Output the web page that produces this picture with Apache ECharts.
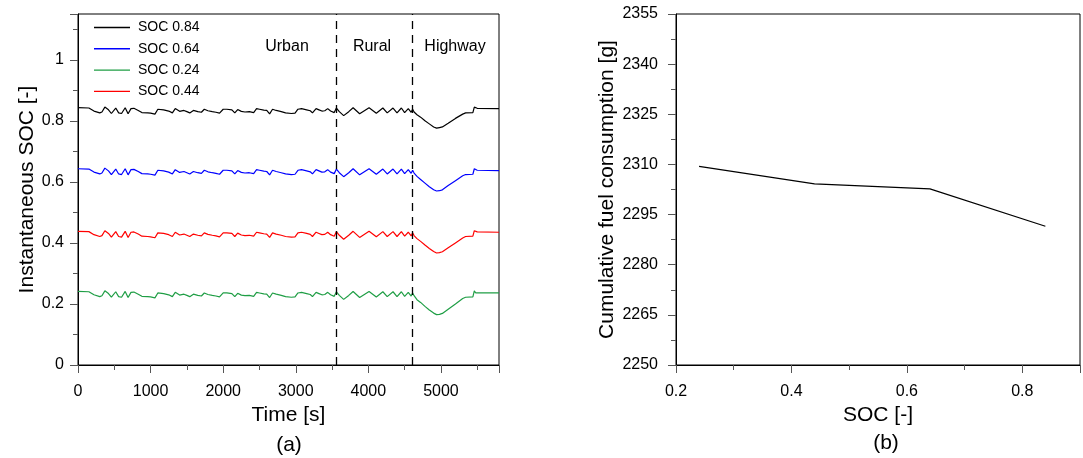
<!DOCTYPE html>
<html>
<head>
<meta charset="utf-8">
<script src="https://cdn.jsdelivr.net/npm/echarts@6/dist/echarts.min.js"></script>
<style>html,body{margin:0;padding:0;background:#fff}#c{width:1083px;height:458px}</style>
</head>
<body>
<div id="c"></div>
<script>
// ---- Data ----
const timeS = [0,150,220,300,330,370,420,460,520,560,600,650,690,730,770,830,880,960,1000,1060,1100,1180,1250,1300,1340,1400,1460,1500,1540,1590,1650,1700,1740,1790,1850,1900,1950,2000,2050,2120,2160,2200,2250,2300,2360,2420,2460,2500,2560,2600,2640,2680,2730,2800,2860,2940,2990,3030,3080,3150,3200,3230,3280,3320,3360,3400,3440,3480,3530,3560,3600,3660,3730,3790,3880,4010,4110,4200,4260,4340,4395,4455,4500,4550,4590,4610,4630,4650,4670,4720,4780,4840,4900,4940,4980,5020,5100,5200,5300,5340,5440,5460,5480,5500,5800];

const soc084 = [0.843,0.842,0.832,0.826,0.829,0.845,0.836,0.824,0.842,0.826,
0.824,0.843,0.823,0.840,0.841,0.834,0.827,0.826,0.825,0.822,
0.838,0.836,0.832,0.826,0.840,0.831,0.834,0.830,0.826,0.834,
0.830,0.828,0.838,0.833,0.830,0.828,0.825,0.838,0.838,0.836,
0.826,0.837,0.831,0.829,0.830,0.827,0.840,0.838,0.835,0.834,
0.823,0.838,0.834,0.830,0.826,0.824,0.825,0.838,0.840,0.836,
0.833,0.826,0.840,0.836,0.832,0.833,0.840,0.832,0.827,0.842,
0.830,0.817,0.830,0.843,0.823,0.843,0.825,0.842,0.826,0.842,
0.826,0.842,0.827,0.840,0.828,0.838,0.829,0.834,0.820,0.812,
0.800,0.790,0.780,0.776,0.778,0.780,0.792,0.808,0.822,0.826,
0.827,0.845,0.840,0.841,0.840];

const soc064 = [0.643,0.642,0.632,0.626,0.629,0.645,0.636,0.624,0.642,0.626,
0.624,0.643,0.623,0.640,0.641,0.634,0.627,0.626,0.625,0.622,
0.638,0.636,0.632,0.626,0.640,0.631,0.634,0.630,0.626,0.634,
0.630,0.628,0.638,0.633,0.630,0.628,0.625,0.638,0.638,0.636,
0.626,0.637,0.631,0.629,0.630,0.627,0.640,0.638,0.635,0.634,
0.623,0.638,0.634,0.630,0.626,0.624,0.625,0.638,0.640,0.636,
0.633,0.626,0.640,0.636,0.632,0.633,0.640,0.632,0.627,0.642,
0.630,0.617,0.630,0.643,0.623,0.643,0.625,0.642,0.626,0.642,
0.626,0.642,0.627,0.640,0.628,0.638,0.629,0.634,0.618,0.608,
0.596,0.584,0.574,0.570,0.571,0.574,0.588,0.604,0.620,0.624,
0.625,0.643,0.637,0.638,0.637];

const soc024 = [0.241,0.240,0.230,0.224,0.227,0.243,0.234,0.222,0.240,0.224,
0.222,0.241,0.221,0.238,0.239,0.232,0.225,0.224,0.223,0.220,
0.236,0.234,0.230,0.224,0.238,0.229,0.232,0.228,0.224,0.232,
0.228,0.226,0.236,0.231,0.228,0.226,0.223,0.236,0.236,0.234,
0.224,0.235,0.229,0.227,0.228,0.225,0.238,0.236,0.233,0.232,
0.221,0.236,0.232,0.228,0.224,0.222,0.223,0.236,0.238,0.234,
0.231,0.224,0.238,0.234,0.230,0.231,0.238,0.230,0.225,0.240,
0.228,0.215,0.228,0.241,0.221,0.241,0.223,0.240,0.224,0.240,
0.224,0.240,0.225,0.238,0.226,0.236,0.227,0.232,0.214,0.205,
0.192,0.180,0.170,0.165,0.166,0.169,0.183,0.200,0.218,0.222,
0.223,0.243,0.236,0.237,0.236];

const soc044 = [0.438,0.437,0.427,0.421,0.424,0.440,0.431,0.419,0.437,0.421,
0.419,0.438,0.418,0.435,0.436,0.429,0.422,0.421,0.420,0.417,
0.433,0.431,0.427,0.421,0.435,0.426,0.429,0.425,0.421,0.429,
0.425,0.423,0.433,0.428,0.425,0.423,0.420,0.433,0.433,0.431,
0.421,0.432,0.426,0.424,0.425,0.422,0.435,0.433,0.430,0.429,
0.418,0.433,0.429,0.425,0.421,0.419,0.420,0.433,0.435,0.431,
0.428,0.421,0.435,0.431,0.427,0.428,0.435,0.427,0.422,0.437,
0.425,0.412,0.425,0.438,0.418,0.438,0.420,0.437,0.421,0.437,
0.421,0.437,0.422,0.435,0.423,0.433,0.424,0.429,0.414,0.405,
0.393,0.382,0.372,0.367,0.368,0.371,0.384,0.400,0.416,0.421,
0.422,0.440,0.435,0.436,0.435];

const seriesNames = ['SOC 0.84','SOC 0.64','SOC 0.24','SOC 0.44'];
const phaseBounds = [3555, 4605];
const phaseNames = ['Urban','Rural','Highway'];

const socLevels = [0.24, 0.44, 0.64, 0.84];
const fuelCum = [2309.4, 2304.2, 2302.7, 2291.5];

// ---- Chart ----
const FONT = '"Liberation Sans", Arial, sans-serif';
const chart = echarts.init(document.getElementById('c'), null, {renderer:'canvas'});

function mainAxis(extra) {
  return Object.assign({
    type:'value', splitLine:{show:false},
    axisLine:{show:true, onZero:false, lineStyle:{color:'#000', width:1}},
    axisTick:{show:true, length:8, lineStyle:{color:'#555', width:1}},
    axisLabel:{color:'#000', fontSize:16, fontFamily:FONT},
    nameLocation:'middle',
    nameTextStyle:{color:'#000', fontSize:21, fontFamily:FONT}
  }, extra);
}
function minorAxis(extra) {
  return Object.assign({
    type:'value', splitLine:{show:false},
    axisLine:{show:false, onZero:false},
    axisTick:{show:true, length:5, lineStyle:{color:'#555', width:1}},
    axisLabel:{show:false}
  }, extra);
}

const lineData = (vals) => timeS.map((t, i) => [t, vals[i]]);
const lineSeries = (name, vals, color, extra) => Object.assign({
  type:'line', name, data: lineData(vals), xAxisIndex:0, yAxisIndex:0,
  symbol:'none', showSymbol:false, lineStyle:{color, width:1.2}, itemStyle:{color},
  z:3
}, extra || {});

const option = {
  animation:false,
  backgroundColor:'#fff',
  textStyle:{fontFamily:FONT},
  grid:[
    {left:78, top:14, width:421, height:351, show:true, borderColor:'#000', borderWidth:1, containLabel:false},
    {left:676, top:14, width:420, height:351, show:true, borderColor:'#000', borderWidth:1, containLabel:false}
  ],
  legend:{
    data:seriesNames, orient:'vertical', left:94, top:20.5, padding:0,
    itemWidth:36, itemHeight:14, itemGap:7.3,
    icon:'path://M0,0 L36,0 L36,1.4 L0,1.4 Z',
    textStyle:{fontSize:14, color:'#000', fontFamily:FONT, padding:[0,0,0,3]}
  },
  xAxis:[
    mainAxis({gridIndex:0, position:'bottom', min:0, max:5800, interval:1000,
      axisLabel:{color:'#000', fontSize:16, fontFamily:FONT, margin:19,
        formatter:(v)=> (v % 1000 === 0 ? String(v) : '')},
      name:'Time [s]', nameGap:40}),
    minorAxis({gridIndex:0, position:'bottom', min:0, max:5800, interval:500}),
    mainAxis({gridIndex:1, position:'bottom', min:0.2, max:0.9, interval:0.2,
      axisLabel:{color:'#000', fontSize:16, fontFamily:FONT, margin:19,
        formatter:(v)=> (Math.abs(v*10 - Math.round(v*10)) < 1e-6 && Math.round(v*10) % 2 === 0 ? v.toFixed(1) : '')},
      name:'SOC [-]', nameGap:40}),
    minorAxis({gridIndex:1, position:'bottom', min:0.2, max:0.9, interval:0.1})
  ],
  yAxis:[
    mainAxis({gridIndex:0, position:'left', min:0, max:1.15, interval:0.2,
      axisLabel:{color:'#000', fontSize:16, fontFamily:FONT, margin:14,
        formatter:(v)=> (v > 1.05 ? '' : String(Math.round(v*10)/10))},
      name:'Instantaneous SOC [-]', nameGap:38, nameRotate:90}),
    minorAxis({gridIndex:0, position:'left', min:0, max:1.15, interval:0.1}),
    mainAxis({gridIndex:1, position:'left', min:2250, max:2355, interval:15,
      axisLabel:{color:'#000', fontSize:16, fontFamily:FONT, margin:18,
        formatter:(v)=> String(Math.round(v))},
      name:'Cumulative fuel consumption [g]', nameGap:58, nameRotate:90}),
    minorAxis({gridIndex:1, position:'left', min:2250, max:2355, interval:7.5})
  ],
  series:[
    lineSeries(seriesNames[0], soc084, '#000000', {
      markLine:{
        silent:true, symbol:['none','none'], label:{show:false},
        lineStyle:{color:'#000', width:1.3, type:[8,6]},
        data: phaseBounds.map(x => ({xAxis:x}))
      }
    }),
    lineSeries(seriesNames[1], soc064, '#0000ff'),
    lineSeries(seriesNames[2], soc024, '#1f9e45'),
    lineSeries(seriesNames[3], soc044, '#ff0000'),
    {
      type:'line', name:'fuel', data: socLevels.map((s,i)=>[s, fuelCum[i]]),
      xAxisIndex:2, yAxisIndex:2, symbol:'none', showSymbol:false,
      lineStyle:{color:'#000', width:1.2}, itemStyle:{color:'#000'}
    }
  ],
  graphic:[
    {type:'text', x:287, y:47, style:{text:phaseNames[0], fill:'#000', font:'16px '+FONT, textAlign:'center', textVerticalAlign:'middle'}},
    {type:'text', x:372, y:47, style:{text:phaseNames[1], fill:'#000', font:'16px '+FONT, textAlign:'center', textVerticalAlign:'middle'}},
    {type:'text', x:455, y:47, style:{text:phaseNames[2], fill:'#000', font:'16px '+FONT, textAlign:'center', textVerticalAlign:'middle'}},
    {type:'text', x:289, y:445, style:{text:'(a)', fill:'#000', font:'21px '+FONT, textAlign:'center', textVerticalAlign:'middle'}},
    {type:'text', x:886, y:443, style:{text:'(b)', fill:'#000', font:'21px '+FONT, textAlign:'center', textVerticalAlign:'middle'}}
  ]
};
chart.setOption(option);
</script>
</body>
</html>
